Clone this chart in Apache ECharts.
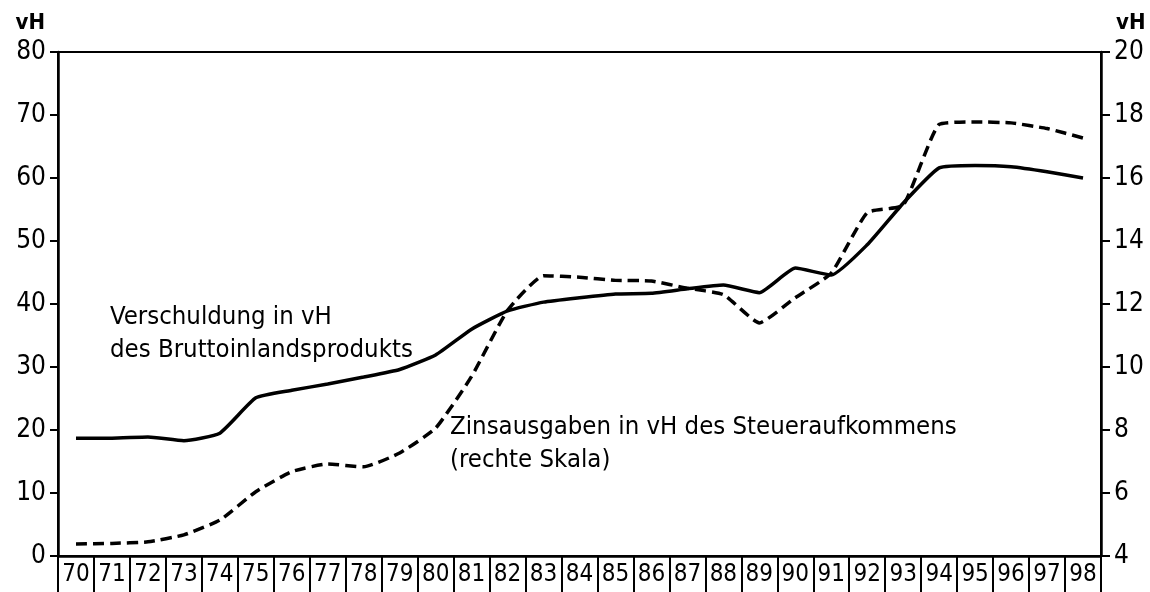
<!DOCTYPE html>
<html>
<head>
<meta charset="utf-8">
<script src="https://cdn.jsdelivr.net/npm/echarts@6/dist/echarts.min.js"></script>
<style>
  html, body { margin: 0; padding: 0; background: #fff; }
  #chart { width: 1150px; height: 592px; }
</style>
</head>
<body>
<div id="chart"></div>
<script>
var years = ['70','71','72','73','74','75','76','77','78','79','80','81','82','83','84',
             '85','86','87','88','89','90','91','92','93','94','95','96','97','98'];
// Verschuldung in vH des BIP (linke Skala)
var schulden = [18.7, 18.7, 18.9, 18.3, 19.5, 25.1, 26.3, 27.3, 28.4, 29.6, 31.9, 36.0, 38.9, 40.3, 41.0,
                41.6, 41.7, 42.4, 43.0, 41.8, 45.7, 44.6, 49.4, 56.0, 61.6, 62.0, 61.8, 61.0, 60.0];
// Zinsausgaben in vH des Steueraufkommens (rechte Skala)
var zinsen = [4.38, 4.4, 4.45, 4.67, 5.14, 6.04, 6.68, 6.92, 6.83, 7.27, 8.06, 9.7, 11.8, 12.9, 12.85,
              12.75, 12.73, 12.5, 12.3, 11.4, 12.2, 12.98, 14.9, 15.14, 17.7, 17.78, 17.75, 17.57, 17.27];

var font = '"DejaVu Sans Condensed", "Liberation Sans Narrow", "DejaVu Sans", sans-serif';

var chart = echarts.init(document.getElementById('chart'));
chart.setOption({
  backgroundColor: '#fff',
  animation: false,
  grid: {
    left: 58,
    right: 49,
    top: 52,
    bottom: 36,
    show: true,
    borderColor: '#000',
    borderWidth: 2
  },
  xAxis: {
    type: 'category',
    data: years,
    boundaryGap: true,
    axisLine: { lineStyle: { color: '#000', width: 2.5 } },
    axisTick: { show: true, length: 36, lineStyle: { color: '#000', width: 2 } },
    axisLabel: { interval: 0, color: '#000', fontFamily: font, fontSize: 24, margin: 7 },
    splitLine: { show: false }
  },
  yAxis: [
    {
      type: 'value',
      min: 0,
      max: 80,
      interval: 10,
      name: 'vH',
      nameLocation: 'end',
      nameGap: 18,
      nameTextStyle: { color: '#000', fontFamily: font, fontSize: 22, fontWeight: 'bold', align: 'right', padding: [0, 13, 0, 0] },
      axisLine: { show: true, lineStyle: { color: '#000', width: 2.5 } },
      axisTick: { show: true, length: 8, lineStyle: { color: '#000', width: 2 } },
      axisLabel: { color: '#000', fontFamily: font, fontSize: 26, margin: 12 },
      splitLine: { show: false }
    },
    {
      type: 'value',
      min: 4,
      max: 20,
      interval: 2,
      name: 'vH',
      nameLocation: 'end',
      nameGap: 18,
      nameTextStyle: { color: '#000', fontFamily: font, fontSize: 22, fontWeight: 'bold', align: 'left', padding: [0, 0, 0, 15] },
      position: 'right',
      axisLine: { show: true, lineStyle: { color: '#000', width: 2.5 } },
      axisTick: { show: true, length: 9, lineStyle: { color: '#000', width: 2 } },
      axisLabel: { color: '#000', fontFamily: font, fontSize: 26, margin: 13 },
      splitLine: { show: false }
    }
  ],
  graphic: [
    {
      type: 'text',
      left: 110,
      top: 301,
      style: {
        text: 'Verschuldung in vH\ndes Bruttoinlandsprodukts',
        font: '25.5px ' + font,
        lineHeight: 33,
        fill: '#000'
      }
    },
    {
      type: 'text',
      left: 450,
      top: 411,
      style: {
        text: 'Zinsausgaben in vH des Steueraufkommens\n(rechte Skala)',
        font: '25.5px ' + font,
        lineHeight: 33,
        fill: '#000'
      }
    }
  ],
  series: [
    {
      name: 'Verschuldung in vH des Bruttoinlandsprodukts',
      type: 'line',
      yAxisIndex: 0,
      data: schulden,
      smooth: 0.15,
      symbol: 'none',
      lineStyle: { color: '#000', width: 3.5 }
    },
    {
      name: 'Zinsausgaben in vH des Steueraufkommens',
      type: 'line',
      yAxisIndex: 1,
      data: zinsen,
      smooth: 0.15,
      symbol: 'none',
      lineStyle: { color: '#000', width: 3.5, type: [11, 6] }
    }
  ]
});
</script>
</body>
</html>
